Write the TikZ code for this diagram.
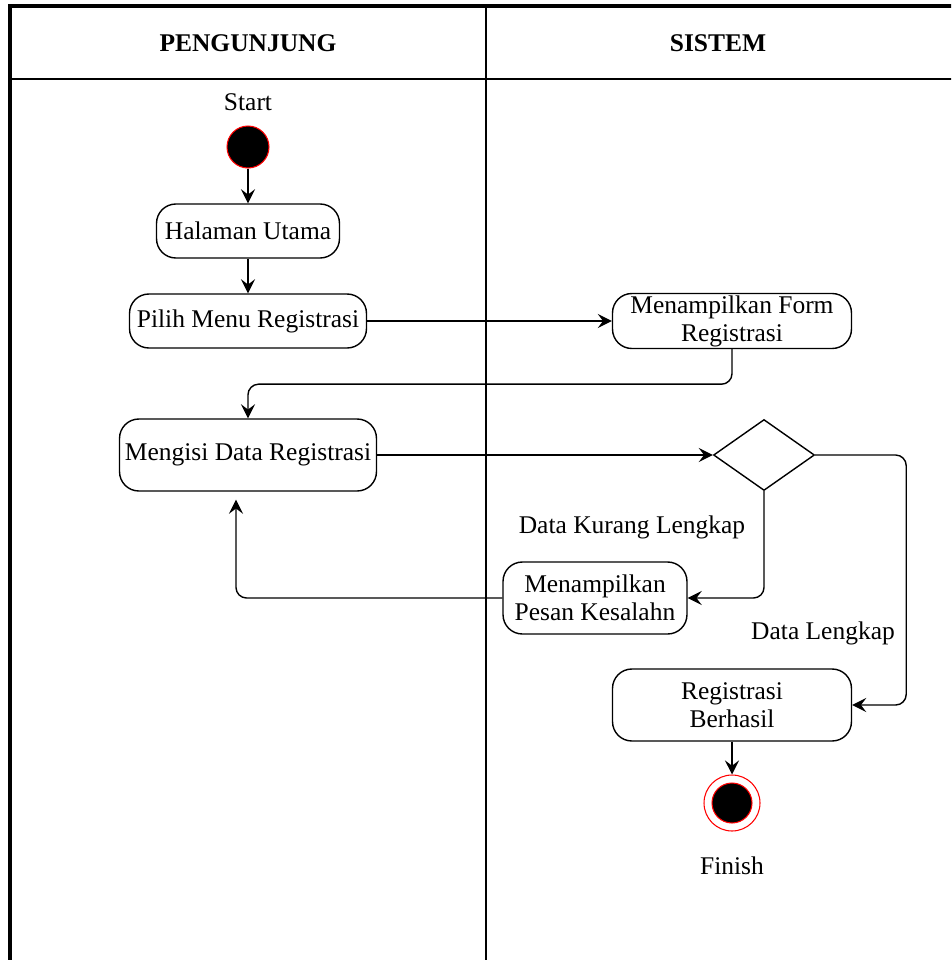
\documentclass[tikz,border=0pt]{standalone}
\usepackage{fontspec}
\setmainfont{Liberation Serif}
\usepackage{tikz}
\usetikzlibrary{positioning,calc}
\usetikzlibrary{shapes.geometric, arrows.meta}
\tikzstyle{activity} = [draw, rectangle, rounded corners=11pt, align=center, inner sep=1pt,
    line width=0.8pt, font=\fontsize{14.5}{16}\selectfont]
\tikzstyle{choice} = [draw, diamond, inner sep=0pt, minimum width=2.02cm, minimum height=1.42cm, line width=0.8pt]
\tikzstyle{note} = [font=\fontsize{14.5}{16}\selectfont]
\tikzstyle{lanehead} = [font=\fontsize{14.5}{16}\selectfont\bfseries]
\tikzstyle{arrow} = [line width=0.8pt,->,>={Stealth[length=8pt,width=8pt,inset=3pt]}]
\tikzstyle{initial} = [circle, fill=black, draw=red, line width=0.6pt, minimum size=0.84cm]

\begin{document}
\begin{tikzpicture}[x=0.02cm, y=-0.02cm]
    \useasboundingbox (0,0) rectangle (951,960);
    \clip (0,0) rectangle (951,960);
    % swimlanes
    \draw [line width=2pt] (960,6) -- (10,6) -- (10,970);
    \draw [line width=1.1pt] (10,79) -- (960,79);
    \draw [line width=0.9pt] (486,6) -- (486,970);
    \node [lanehead] (pengunjung) at (248,43) {PENGUNJUNG};
    \node [lanehead] (sistem) at (718,43) {SISTEM};

    % We start by placing the blocks
    \node [note] (startlabel) at (248,102) {Start};
    \node [initial] (mulai) at (248,147) {};
    \node [activity, minimum width=3.66cm, minimum height=1.08cm] (halaman) at (248,231) {Halaman Utama};
    \node [activity, minimum width=4.74cm, minimum height=1.08cm] (pilih) at (248,321) {Pilih Menu Registrasi};
    \node [activity, minimum width=4.78cm, minimum height=1.1cm] (form) at (732,321) {Menampilkan Form\\Registrasi};
    \node [activity, minimum width=5.14cm, minimum height=1.44cm] (mengisi) at (248,455) {Mengisi Data Registrasi};
    \node [choice] (cek) at (764,455) {};
    \node [activity, minimum width=3.68cm, minimum height=1.44cm] (pesan) at (595,598) {Menampilkan\\Pesan Kesalahn};
    \node [activity, minimum width=4.78cm, minimum height=1.44cm] (berhasil) at (732,705) {Registrasi\\Berhasil};
    \node [circle, draw=red, line width=0.6pt, minimum size=1.12cm] (selesai) at (732,803) {};
    \node [initial, minimum size=0.8cm] (selesaiinti) at (selesai) {};
    \node [note] (finishlabel) at (732,866) {Finish};
    \node [note] (kurang) at (632,527) {Data Kurang Lengkap};
    \node [note] (lengkap) at (823,633) {Data Lengkap};
    \coordinate (balik) at ($(mengisi.south)+(-12,8)$);

    % connectors
    \draw [arrow] (mulai) -- (halaman);
    \draw [arrow] (halaman) -- (pilih);
    \draw [arrow] (pilih) -- (form);
    \draw [arrow, rounded corners=6pt] (form.south) -- ++(0,35) -| (mengisi.north);
    \draw [arrow] (mengisi) -- (cek);
    \draw [arrow, rounded corners=6pt] (cek.south) |- (pesan.east);
    \draw [arrow, rounded corners=6pt] (pesan.west) -| (balik);
    \draw [arrow, rounded corners=6pt] (cek.east) -- ++(91,0) |- (berhasil.east);
    \draw [arrow] (berhasil) -- (selesai);
\end{tikzpicture}
\end{document}
